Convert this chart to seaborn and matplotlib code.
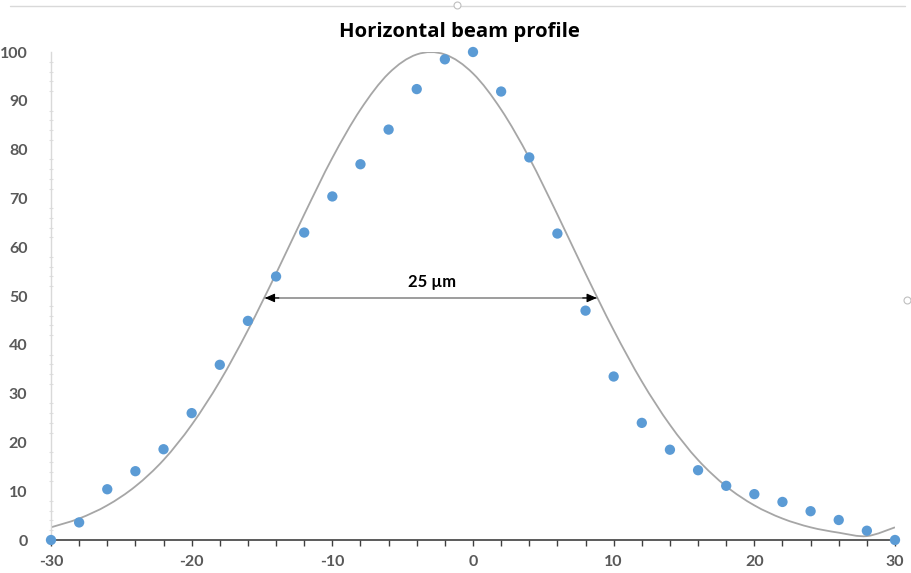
import numpy as np
import pandas as pd
import matplotlib
matplotlib.use("Agg")
import matplotlib.pyplot as plt
import seaborn as sns
from matplotlib.path import Path
from matplotlib.patches import PathPatch
from matplotlib.lines import Line2D
from matplotlib.ticker import MultipleLocator

# ---- data ----
pos_um = [-30, -28, -26, -24, -22, -20, -18, -16, -14, -12, -10, -8, -6, -4, -2,
          0, 2, 4, 6, 8, 10, 12, 14, 16, 18, 20, 22, 24, 26, 28, 30]
intensity = [0, 3.6, 10.4, 14.1, 18.6, 26.0, 35.9, 44.9, 54.0, 63.0, 70.4, 77.0, 84.1, 92.4, 98.5,
             100, 91.9, 78.4, 62.8, 47.0, 33.5, 24.0, 18.5, 14.3, 11.1, 9.4, 7.8, 5.9, 4.1, 1.9, 0]

fit_x = [-30, -28, -26, -24, -22, -20, -18, -16, -14, -12, -10, -8, -6, -4, -2,
         0, 2, 4, 6, 8, 10, 12, 14, 16, 18, 20, 22, 24, 26, 28, 30]
fit_y = [2.6, 4.4, 7.1, 11.0, 16.4, 23.6, 32.5, 43.0, 54.6, 66.7, 78.3, 88.2, 95.6, 99.5, 99.5,
         95.6, 88.2, 78.3, 66.7, 54.6, 43.0, 32.5, 23.6, 16.4, 11.0, 7.1, 4.4, 2.6, 1.5, 0.8, 2.6]

fwhm_start, fwhm_end, fwhm_level = -14.8, 8.8, 49.6
fwhm_label = "25 µm"
title = "Horizontal beam profile"
x_ticks = [-30, -20, -10, 0, 10, 20, 30]
y_ticks = [0, 10, 20, 30, 40, 50, 60, 70, 80, 90, 100]

sns.set_theme(style="white")
plt.rcParams["font.family"] = ["Lato", "DejaVu Sans"]
plt.rcParams["axes.unicode_minus"] = False

fig = plt.figure(figsize=(9.11, 5.73), dpi=100)
ax = fig.add_axes([51 / 911, 1 - 540 / 573, (895 - 51) / 911, (540 - 52) / 573])

# smoothed gray line through the fit points (Excel-style smoothing)
px = np.array(fit_x, dtype=float)
py = np.array(fit_y, dtype=float)
P = np.column_stack([px, py])
Pext = np.vstack([P[0], P, P[-1]])
verts = [tuple(P[0])]
codes = [Path.MOVETO]
for i in range(len(P) - 1):
    p0, p1, p2, p3 = Pext[i], Pext[i + 1], Pext[i + 2], Pext[i + 3]
    c1 = p1 + (p2 - p0) / 6.0
    c2 = p2 - (p3 - p1) / 6.0
    verts += [tuple(c1), tuple(c2), tuple(p2)]
    codes += [Path.CURVE4] * 3
ax.add_patch(PathPatch(Path(verts, codes), facecolor="none", edgecolor="#a6a6a6",
                       lw=1.3, transform=ax.transData, zorder=2))

df = pd.DataFrame({"x": pos_um, "y": intensity})
sns.scatterplot(data=df, x="x", y="y", ax=ax, color="#5b9bd5", s=55,
                edgecolor="none", zorder=3, clip_on=False)

# FWHM arrow
ax.plot([fwhm_start, fwhm_end], [fwhm_level, fwhm_level], color="#8c8c8c", lw=1.2, zorder=2)
for end, start in [(fwhm_start, fwhm_start + 1.0), (fwhm_end, fwhm_end - 1.0)]:
    ax.annotate("", xy=(end, fwhm_level), xytext=(start, fwhm_level),
                arrowprops=dict(arrowstyle="-|>,head_length=0.5,head_width=0.22",
                                color="black", lw=0.8, shrinkA=0, shrinkB=0))
ax.text(-2.9, 52.9, fwhm_label, ha="center", va="center", fontsize=12,
        fontweight="bold", color="black")

ax.set_xlim(-30, 30)
ax.set_ylim(0, 100)
ax.set_xlabel("")
ax.set_ylabel("")
ax.set_xticks(x_ticks)
ax.set_yticks(y_ticks)
ax.xaxis.set_minor_locator(MultipleLocator(2))
ax.yaxis.set_minor_locator(MultipleLocator(2))

for s in ["top", "right"]:
    ax.spines[s].set_visible(False)
ax.spines["left"].set_color("#d9d9d9")
ax.spines["left"].set_linewidth(1.0)
ax.spines["bottom"].set_color("#404040")
ax.spines["bottom"].set_linewidth(1.2)
ax.spines["bottom"].set_zorder(1)

ax.tick_params(axis="x", which="both", bottom=True, direction="out", length=4.5,
               width=1.0, color="#404040", pad=6)
ax.tick_params(axis="x", which="major", labelsize=11.5, labelcolor="#595959")
ax.tick_params(axis="y", which="major", left=False, labelsize=11.5,
               labelcolor="#595959", pad=11)
ax.tick_params(axis="y", which="minor", left=True, direction="inout", length=3,
               width=0.8, color="#e0e0e0")
for lab in ax.get_xticklabels() + ax.get_yticklabels():
    lab.set_fontweight("bold")

fig.text(459 / 911, 1 - 32 / 573, title, ha="center", va="center",
         fontsize=14.6, fontweight="bold", color="black",
         family=["Open Sans", "DejaVu Sans"])

# chart frame remnants (top border and handles)
fig.add_artist(Line2D([10 / 911, 905 / 911], [1 - 6 / 573, 1 - 6 / 573],
                      transform=fig.transFigure, color="#d9d9d9", lw=1.0))
for hx, hy in [(457, 5), (907, 300)]:
    fig.add_artist(Line2D([hx / 911], [1 - hy / 573], transform=fig.transFigure,
                          marker="o", ms=5, mfc="white", mec="#bfbfbf", mew=0.8,
                          linestyle="none"))

fig.savefig("out.png", dpi=100)
